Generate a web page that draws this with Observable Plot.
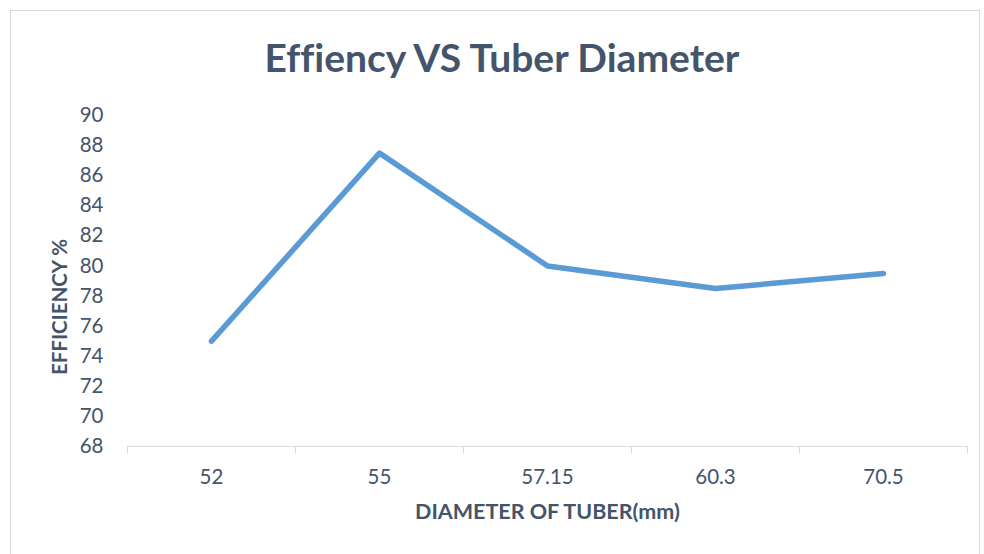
<!DOCTYPE html>
<html>
<head>
<meta charset="utf-8">
<script src="https://cdn.jsdelivr.net/npm/d3@7"></script>
<script src="https://cdn.jsdelivr.net/npm/@observablehq/plot@0.6"></script>
<style>
  html, body { margin: 0; padding: 0; background: #fff; }
  #wrap { position: relative; width: 984px; height: 554px; overflow: hidden; font-family: Lato, "Open Sans", sans-serif; font-variant-ligatures: none; }
  #frame { position: absolute; left: 10px; top: 10px; width: 970px; height: 600px; border: 1px solid #d9d9d9; box-sizing: border-box; }
  #title { position: absolute; left: 0; top: 0; width: 984px; height: 95px; text-align: center; color: #44546A; font-weight: bold; font-size: 39px; line-height: 39px; padding-top: 38px; box-sizing: border-box; padding-left: 20px; font-variant-ligatures: none; }
  #chart { position: absolute; left: 0; top: 95px; }
</style>
</head>
<body>
<div id="wrap">
  <div id="frame"></div>
  <div id="title">Effiency VS Tuber Diameter</div>
  <div id="chart"></div>
</div>
<script>
const categories = ["52", "55", "57.15", "60.3", "70.5"];
const efficiency = [75, 87.5, 80, 78.5, 79.5];
const yTicks = [68, 70, 72, 74, 76, 78, 80, 82, 84, 86, 88, 90];
const yLabel = "EFFICIENCY %";
const xLabel = "DIAMETER OF TUBER(mm)";

const textColor = "#44546A";
const data = categories.map((c, i) => ({ pos: i + 0.5, cat: c, value: efficiency[i] }));
const boundaries = d3.range(0, categories.length + 1);

const chart = Plot.plot({
  width: 984,
  height: 459,
  marginLeft: 127,
  marginRight: 17,
  marginTop: 20,
  marginBottom: 108,
  style: { fontFamily: "Lato, 'Open Sans', sans-serif", background: "transparent" },
  x: { domain: [0, categories.length], axis: null },
  y: { domain: [68, 90], axis: null },
  marks: [
    Plot.axisY(yTicks, { tickSize: 0, tickPadding: 24, fontSize: 20.5, fill: textColor, label: null }),
    Plot.ruleY([68], { stroke: "#d9d9d9", strokeWidth: 1 }),
    Plot.axisX(boundaries, { tickSize: 7, tickFormat: () => "", stroke: "#d9d9d9", label: null }),
    Plot.axisX(data.map(d => d.pos), { tickSize: 0, tickPadding: 23, fontSize: 20.5, fill: textColor, label: null,
      tickFormat: p => categories[Math.floor(p)] }),
    Plot.line(data, { x: "pos", y: "value", stroke: "#5B9BD5", strokeWidth: 5.5, strokeLinecap: "round", strokeLinejoin: "round" }),
    Plot.text([yLabel], { frameAnchor: "left", textAnchor: "middle", rotate: -90, dx: -67, dy: 26, fontSize: 20.5, fontWeight: "bold", fill: textColor }),
    Plot.text([xLabel], { frameAnchor: "bottom", dy: 72, fontSize: 21.5, fontWeight: "bold", fill: textColor })
  ]
});
document.getElementById("chart").appendChild(chart);
</script>
</body>
</html>
